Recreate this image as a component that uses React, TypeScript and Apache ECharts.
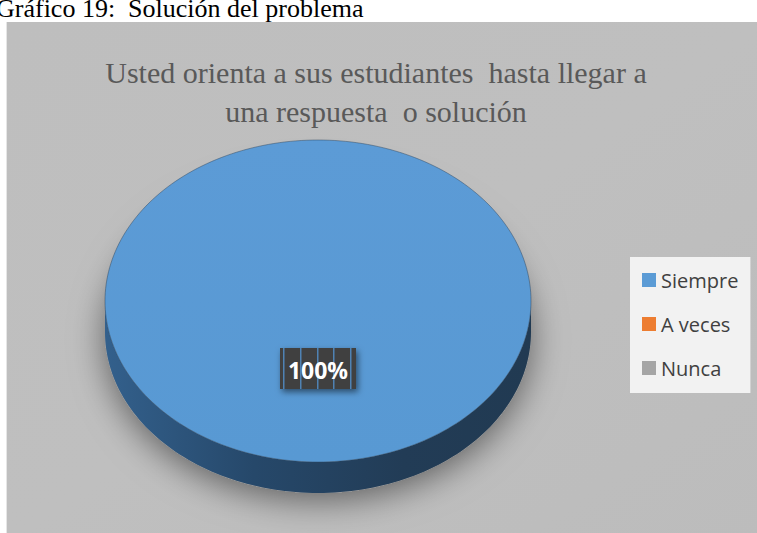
import React, { useEffect, useRef } from "react";
import * as echarts from "echarts";

const categories = ["Siempre", "A veces", "Nunca"];
const values = [100, 0, 0];
const colors = ["#5b9bd5", "#ed7d31", "#a5a5a5"];
const chartTitle = "Usted orienta a sus estudiantes  hasta llegar a\nuna respuesta  o solución";
const caption = "Gráfico 19:  Solución del problema";

const CX = 318;
const CY = 301;
const RX = 213;
const RY = 161;
const DEPTH = 31;

function pt(t: number, dy = 0): number[] {
  return [CX + RX * Math.sin(t), CY - RY * Math.cos(t) + dy];
}

function arcPoints(a0: number, a1: number, dy = 0): number[][] {
  const n = Math.max(2, Math.ceil(((a1 - a0) / (Math.PI * 2)) * 240));
  const pts: number[][] = [];
  for (let i = 0; i <= n; i++) pts.push(pt(a0 + ((a1 - a0) * i) / n, dy));
  return pts;
}

function makeRenderItem(idx: number) {
  return (params: any, api: any) => {
    const total = values.reduce((a, b) => a + b, 0);
    const v = api.value(0);
    if (!total || !v) return { type: "group", children: [] };
    const before = values.slice(0, idx).reduce((a, b) => a + b, 0);
    const a0 = (before / total) * Math.PI * 2;
    const a1 = ((before + v) / total) * Math.PI * 2;
    const full = v >= total;
    const children: any[] = [];

    children.push({
      type: "ellipse",
      shape: { cx: CX, cy: CY + DEPTH, rx: RX, ry: RY },
      style: {
        fill: "#9a9a9a",
        shadowBlur: 34,
        shadowColor: "rgba(0,0,0,0.5)",
        shadowOffsetY: 7,
      },
      silent: true,
    });

    const s0 = Math.max(a0, Math.PI / 2);
    const s1 = Math.min(a1, (Math.PI * 3) / 2);
    if (s1 > s0) {
      const top = arcPoints(s0, s1, 0);
      const bot = arcPoints(s0, s1, DEPTH).reverse();
      children.push({
        type: "polygon",
        shape: { points: top.concat(bot) },
        style: {
          fill: new echarts.graphic.LinearGradient(0, 0, 1, 0, [
            { offset: 0, color: "#33608c" },
            { offset: 0.35, color: "#26486a" },
            { offset: 0.7, color: "#223c56" },
            { offset: 1, color: "#213a52" },
          ]),
        },
      });
    }

    const topPts = full ? arcPoints(0, Math.PI * 2) : [[CX, CY]].concat(arcPoints(a0, a1));
    children.push({
      type: "polygon",
      shape: { points: topPts },
      style: {
        fill: new echarts.graphic.LinearGradient(0, 0, 0, 1, [
          { offset: 0, color: "#5c9bd6" },
          { offset: 1, color: "#5899d3" },
        ]),
        stroke: "rgba(45,70,95,0.6)",
        lineWidth: 0.8,
      },
    });

    const mid = (a0 + a1) / 2;
    const lp = [CX + RX * 0.42 * Math.sin(mid), CY - RY * 0.42 * Math.cos(mid)];
    const pct = Math.round((v / total) * 100) + "%";
    const bw = 76;
    const bh = 41;
    children.push({
      type: "rect",
      shape: { x: lp[0] - bw / 2, y: lp[1] - bh / 2, width: bw, height: bh },
      style: {
        fill: "#3f3f3f",
        shadowBlur: 6,
        shadowColor: "rgba(0,0,0,0.5)",
        shadowOffsetX: 2,
        shadowOffsetY: 3,
      },
    });
    [3, 20, 37, 53, 70].forEach((dx) => {
      children.push({
        type: "rect",
        shape: { x: lp[0] - bw / 2 + dx, y: lp[1] - bh / 2, width: 1.5, height: bh },
        style: { fill: "#4f82b3" },
      });
    });
    children.push({
      type: "text",
      style: {
        text: pct,
        x: lp[0],
        y: lp[1] + 1,
        align: "center",
        verticalAlign: "middle",
        fill: "#ffffff",
        font: 'bold 23px "Open Sans", "Liberation Sans", sans-serif',
      },
    });

    return { type: "group", children };
  };
}

export default function App() {
  const ref = useRef<HTMLDivElement>(null);
  useEffect(() => {
    if (!ref.current) return;
    const chart = echarts.init(ref.current, null, { renderer: "svg" });
    chart.setOption({
      animation: false,
      backgroundColor: "#ffffff",
      graphic: [
        {
          type: "rect",
          shape: { x: 6, y: 22, width: 760, height: 520 },
          style: { fill: "#e6e6e6" },
          z: -10,
        },
        {
          type: "rect",
          shape: { x: 7, y: 22, width: 760, height: 520 },
          style: {
            fill: new echarts.graphic.LinearGradient(0, 0, 1, 1, [
              { offset: 0, color: "#bebebe" },
              { offset: 0.5, color: "#bfbfbf" },
              { offset: 1, color: "#bcbcbc" },
            ]),
          },
          z: -9,
        },
        {
          type: "text",
          x: -4,
          y: 8,
          style: {
            text: caption,
            font: '26px "Liberation Serif", "Times New Roman", serif',
            fill: "#000000",
            align: "left",
            verticalAlign: "middle",
          },
        },
        {
          type: "text",
          x: 376,
          y: 92,
          style: {
            text: chartTitle,
            font: '30px "Liberation Serif", "Times New Roman", serif',
            lineHeight: 39,
            fill: "#595959",
            align: "center",
            verticalAlign: "middle",
          },
        },
      ],
      legend: {
        orient: "vertical",
        left: 630,
        top: 257,
        data: categories,
        icon: "rect",
        itemWidth: 14,
        itemHeight: 14,
        itemGap: 22,
        padding: [12, 12, 14, 12],
        backgroundColor: "#f2f2f2",
        selectedMode: false,
        textStyle: {
          color: "#404040",
          fontSize: 20,
          lineHeight: 22,
          fontFamily: '"Open Sans", sans-serif',
        },
      },
      series: categories.map((name, i) => ({
        type: "custom",
        name,
        coordinateSystem: "none",
        itemStyle: { color: colors[i] },
        data: [[values[i]]],
        renderItem: makeRenderItem(i),
      })),
    });
    return () => chart.dispose();
  }, []);
  return (
    <div
      ref={ref}
      style={{ position: "absolute", left: 0, top: 0, width: 757, height: 533 }}
    />
  );
}
